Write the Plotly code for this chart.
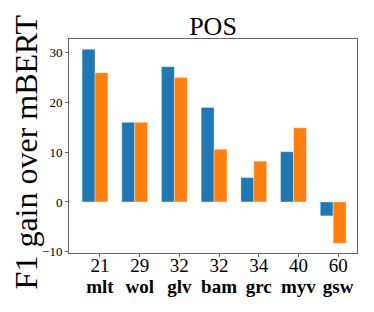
import plotly.graph_objects as go

langs = ["mlt", "wol", "glv", "bam", "grc", "myv", "gsw"]
counts = ["21", "29", "32", "32", "34", "40", "60"]
series_a = [30.7, 16.0, 27.2, 19.0, 4.9, 10.1, -2.8]
series_b = [26.0, 16.0, 25.0, 10.6, 8.2, 14.9, -8.3]

blue = "#1f77b4"
orange = "#ff7f0e"
font_family = "Liberation Serif"
w = 0.325
xs = list(range(len(langs)))
tick_pos = [x + 0.125 for x in xs]
tick_text = ['<span style="font-size:19px">%s</span><br><span style="font-size:19px"><b>%s</b></span>' % (c, l)
             for c, l in zip(counts, langs)]

# page body has an 8px default margin, so the figure is laid out 8px smaller
W, H = 366, 304
L, R, T, B = 61, 17, 31, 59
plot_w = W - L - R

fig = go.Figure()
fig.add_trace(go.Bar(x=xs, y=series_a, width=w, offset=-w, marker_color=blue,
                     marker_line=dict(color="rgba(255,255,255,0.6)", width=0.6), showlegend=False))
fig.add_trace(go.Bar(x=xs, y=series_b, width=w, offset=0, marker_color=orange,
                     marker_line=dict(color="rgba(255,255,255,0.6)", width=0.6), showlegend=False))

fig.add_annotation(x=(18 - L) / plot_w, xref="paper", y=0.47, yref="paper", text="F1 gain over mBERT",
                   textangle=-90, showarrow=False, xanchor="center", yanchor="middle",
                   font=dict(family=font_family, size=32, color="black"))

fig.update_layout(
    width=W, height=H,
    margin=dict(l=L, r=R, t=T, b=B, autoexpand=False),
    paper_bgcolor="white", plot_bgcolor="white",
    barmode="overlay",
    title=dict(text="POS", x=0.5, xref="paper", y=1 - 18 / H, yref="container",
               xanchor="center", yanchor="middle", automargin=False,
               font=dict(family=font_family, size=26, color="black")),
    xaxis=dict(range=[-0.655, 6.6], tickmode="array", tickvals=tick_pos, ticktext=tick_text,
               automargin=False, ticklabelstandoff=-4,
               showgrid=False, zeroline=False, showline=True, mirror=True, linecolor="#666",
               linewidth=1, ticks="outside", ticklen=3, tickcolor="#666",
               tickfont=dict(family=font_family, size=16, color="black")),
    yaxis=dict(range=[-10.26, 32.76], tickmode="array", tickvals=[-10, 0, 10, 20, 30],
               ticktext=["\u221210", "0", "10", "20", "30"], automargin=False,
               showgrid=False, zeroline=False, showline=True, mirror=True, linecolor="#666",
               linewidth=1, ticks="outside", ticklen=3, tickcolor="#666",
               tickfont=dict(family=font_family, size=13, color="black")),
)

fig.write_html("out.html")
